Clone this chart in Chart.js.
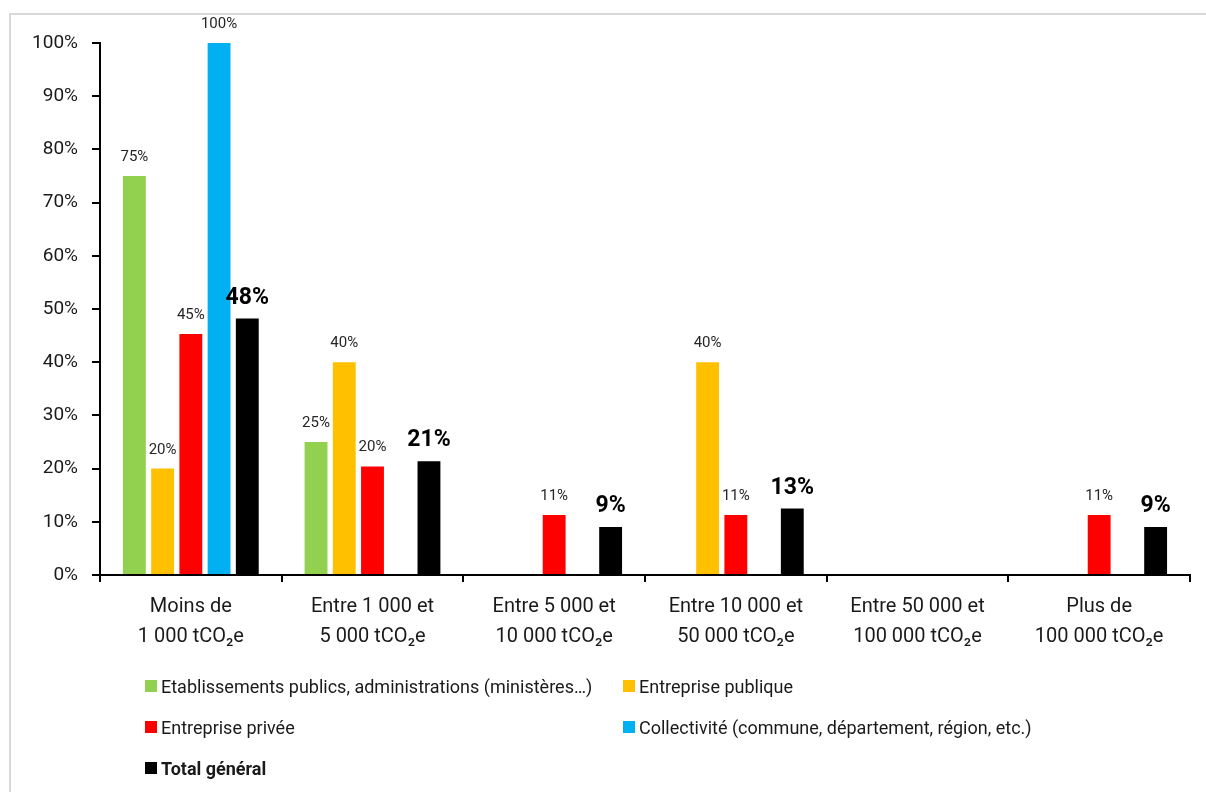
<!DOCTYPE html>
<html>
<head>
<meta charset="utf-8">
<script src="https://cdn.jsdelivr.net/npm/chart.js@4"></script>
<style>
  html, body { margin: 0; padding: 0; background: #fff; }
  #wrap { position: relative; width: 1206px; height: 792px; overflow: hidden; font-family: Roboto, sans-serif; }
  #frame { position: absolute; left: 9px; top: 13px; right: -5px; bottom: -5px; border-left: 2px solid #d9d9d9; border-top: 2px solid #d9d9d9; }
  #chart { position: absolute; left: 0; top: 0; }
  #legend { position: absolute; left: 0; top: 0; width: 1206px; height: 792px; pointer-events: none; }
  .item { position: absolute; display: flex; align-items: center; font-size: 18px; color: #1a1a1a; white-space: nowrap; }
  .item span.box { width: 12px; height: 12px; margin-right: 4px; display: inline-block; }
</style>
</head>
<body>
<div id="wrap">
  <div id="frame"></div>
  <canvas id="chart" width="1206" height="792"></canvas>
  <div id="legend"></div>
</div>
<script>
const categories = [
  ['Moins de', '1 000 tCO₂e'],
  ['Entre 1 000 et', '5 000 tCO₂e'],
  ['Entre 5 000 et', '10 000 tCO₂e'],
  ['Entre 10 000 et', '50 000 tCO₂e'],
  ['Entre 50 000 et', '100 000 tCO₂e'],
  ['Plus de', '100 000 tCO₂e']
];
const seriesNames = [
  'Etablissements publics, administrations (ministères…)',
  'Entreprise publique',
  'Entreprise privée',
  'Collectivité (commune, département, région, etc.)',
  'Total général'
];
const seriesColors = ['#92D050', '#FFC000', '#FF0000', '#00B0F0', '#000000'];
const etablissements = [75, 25, null, null, null, null];
const entreprisePublique = [20, 40, null, 40, null, null];
const entreprisePrivee = [45.3, 20.4, 11.3, 11.3, null, 11.3];
const collectivite = [100, null, null, null, null, null];
const totalGeneral = [48.2, 21.4, 9.0, 12.5, null, 9.0];
const yTicks = [0, 10, 20, 30, 40, 50, 60, 70, 80, 90, 100];

const allSeries = [etablissements, entreprisePublique, entreprisePrivee, collectivite, totalGeneral];

const labelPlugin = {
  id: 'barLabels',
  afterDatasetsDraw(chart) {
    const ctx = chart.ctx;
    chart.data.datasets.forEach((ds, i) => {
      const meta = chart.getDatasetMeta(i);
      const isTotal = i === 4;
      meta.data.forEach((bar, j) => {
        const v = ds.data[j];
        if (v === null || v === undefined) return;
        ctx.save();
        ctx.font = isTotal ? 'bold 23px Roboto' : '15px Roboto';
        ctx.fillStyle = isTotal ? '#000' : '#262626';
        ctx.textAlign = 'center';
        ctx.textBaseline = 'alphabetic';
        ctx.fillText(Math.round(v) + '%', bar.x, bar.y - 15);
        ctx.restore();
      });
    });
  }
};

new Chart(document.getElementById('chart'), {
  type: 'bar',
  data: {
    labels: categories,
    datasets: allSeries.map((d, i) => ({
      label: seriesNames[i],
      data: d,
      backgroundColor: seriesColors[i],
      categoryPercentage: 0.777,
      barPercentage: 0.81
    }))
  },
  options: {
    responsive: false,
    animation: false,
    layout: { padding: { top: 43, right: 16, bottom: 137, left: 0 } },
    plugins: { legend: { display: false }, tooltip: { enabled: false } },
    scales: {
      x: {
        grid: { display: true, drawOnChartArea: false, drawTicks: true, tickLength: 7, color: '#000', lineWidth: 2, offset: true },
        border: { display: true, color: '#000', width: 2 },
        ticks: { color: '#1a1a1a', font: { family: 'Roboto', size: 20, lineHeight: 1.5 }, padding: 10, maxRotation: 0 },
        afterFit(scale) { scale.height = 80; }
      },
      y: {
        min: 0, max: 100,
        afterBuildTicks(scale) { scale.ticks = yTicks.map(v => ({ value: v })); },
        grid: { display: true, drawOnChartArea: false, drawTicks: true, tickLength: 8, color: '#000', lineWidth: 2 },
        border: { display: true, color: '#000', width: 2 },
        ticks: { color: '#1a1a1a', font: { family: 'Roboto', size: 19 }, padding: 14, callback: v => v + '%' },
        afterFit(scale) { scale.width = 100; }
      }
    }
  },
  plugins: [labelPlugin]
});

// legend in two columns, as in the original
const legendPos = [
  [145, 686], [623, 686],
  [145, 727], [623, 727],
  [145, 768]
];
const legend = document.getElementById('legend');
seriesNames.forEach((name, i) => {
  const el = document.createElement('div');
  el.className = 'item';
  el.style.left = legendPos[i][0] + 'px';
  el.style.top = (legendPos[i][1] - 11) + 'px';
  el.style.height = '22px';
  if (i === 4) el.style.fontWeight = 'bold';
  const box = document.createElement('span');
  box.className = 'box';
  box.style.background = seriesColors[i];
  el.appendChild(box);
  el.appendChild(document.createTextNode(name));
  legend.appendChild(el);
});
</script>
</body>
</html>
